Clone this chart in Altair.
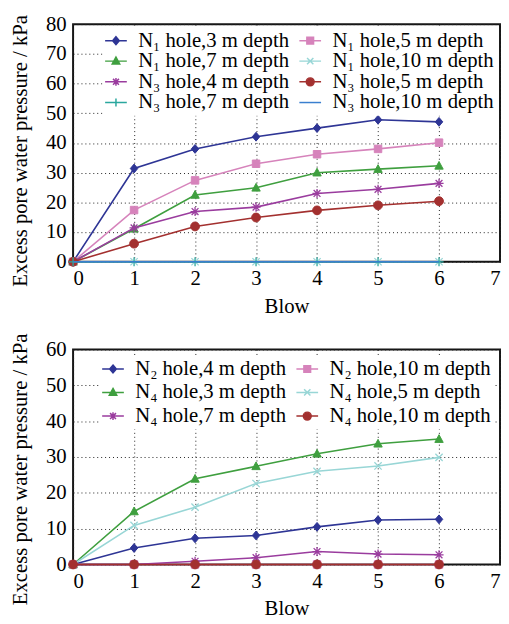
import altair as alt
import pandas as pd

# ---------------- data ----------------
blows = [0, 1, 2, 3, 4, 5, 6]

top_series = [
    "N\u2081 hole,3 m depth", "N\u2081 hole,5 m depth",
    "N\u2081 hole,7 m depth", "N\u2081 hole,10 m depth",
    "N\u2083 hole,4 m depth", "N\u2083 hole,5 m depth",
    "N\u2083 hole,7 m depth", "N\u2083 hole,10 m depth",
]
top_n1_3m = [0, 31.4, 38.0, 42.1, 45.0, 47.8, 47.1]
top_n1_5m = [0, 17.4, 27.4, 33.0, 36.2, 38.0, 40.1]
top_n1_7m = [0, 11.1, 22.5, 24.9, 30.0, 31.2, 32.3]
top_n1_10m = [0, 0, 0, 0, 0, 0, 0]
top_n3_4m = [0, 11.4, 16.9, 18.4, 23.0, 24.4, 26.4]
top_n3_5m = [0, 6.1, 11.9, 14.9, 17.3, 19.0, 20.4]
top_n3_7m = [0, 0, 0, 0, 0, 0, 0]
top_n3_10m = [0, 0, 0, 0, 0, 0, 0]
top_values = [top_n1_3m, top_n1_5m, top_n1_7m, top_n1_10m,
              top_n3_4m, top_n3_5m, top_n3_7m, top_n3_10m]

bot_series = [
    "N\u2082 hole,4 m depth", "N\u2082 hole,10 m depth",
    "N\u2084 hole,3 m depth", "N\u2084 hole,5 m depth",
    "N\u2084 hole,7 m depth", "N\u2084 hole,10 m depth",
]
bot_n2_4m = [0, 4.6, 7.3, 8.1, 10.5, 12.4, 12.6]
bot_n2_10m = [0, 0, 0, 0, 0, 0, 0]
bot_n4_3m = [0, 14.8, 23.9, 27.4, 30.9, 33.7, 35.0]
bot_n4_5m = [0, 10.9, 16.0, 22.6, 26.0, 27.5, 29.9]
bot_n4_7m = [0, 0, 0.9, 1.9, 3.6, 2.9, 2.7]
bot_n4_10m = [0, 0, 0, 0, 0, 0, 0]
bot_values = [bot_n2_4m, bot_n2_10m, bot_n4_3m, bot_n4_5m, bot_n4_7m, bot_n4_10m]

# legend reading order (legend fills column by column, 2 columns)
top_legend_order = [0, 2, 4, 6, 1, 3, 5, 7]
bot_legend_order = [0, 2, 4, 1, 3, 5]

x_ticks = [0, 1, 2, 3, 4, 5, 6, 7]
top_y_ticks = [0, 10, 20, 30, 40, 50, 60, 70, 80]
bot_y_ticks = [0, 10, 20, 30, 40, 50, 60]

# ---------------- styles ----------------
NAVY, PINK, GREEN, CYAN = "#2e3595", "#d683bb", "#3f9f3f", "#98d6d6"
PURPLE, DRED, TEAL, BLUE = "#9a3c9e", "#a3302f", "#2aa79e", "#3a7fcf"

M_DIAMOND = "M0,-1L0.85,0L0,1L-0.85,0Z"
M_SQUARE = "M-0.85,-0.85L0.85,-0.85L0.85,0.85L-0.85,0.85Z"
M_TRI = "M0,-1L0.95,0.75L-0.95,0.75Z"
M_X = "M-0.8,-0.8L0.8,0.8M-0.8,0.8L0.8,-0.8"
M_STAR = "M-1,0L1,0M0,-1L0,1M-0.75,-0.75L0.75,0.75M-0.75,0.75L0.75,-0.75"
M_CIRCLE = "M1,0A1,1 0 1,1 -1,0A1,1 0 1,1 1,0Z"
M_PLUS = "M-1,0L1,0M0,-1L0,1"
LINE = "M-2.75,0L2.75,0"

top_style = [
    (NAVY, M_DIAMOND, True), (PINK, M_SQUARE, True),
    (GREEN, M_TRI, True), (CYAN, M_X, False),
    (PURPLE, M_STAR, False), (DRED, M_CIRCLE, True),
    (TEAL, M_PLUS, False), (BLUE, None, False),
]
bot_style = [
    (NAVY, M_DIAMOND, True), (PINK, M_SQUARE, True),
    (GREEN, M_TRI, True), (CYAN, M_X, False),
    (PURPLE, M_STAR, False), (DRED, M_CIRCLE, True),
]

FONT = "Liberation Serif"
YTITLE = "Excess pore water pressure / kPa"


def make_df(series, values):
    rows = []
    for s, vals in zip(series, values):
        for b, v in zip(blows, vals):
            rows.append({"series": s, "blow": b, "value": v})
    return pd.DataFrame(rows)


def panel(series, values, style, order, y_max, y_ticks, height, row_pad, offset,
          title_y, key):
    df = make_df(series, values)
    xenc = alt.X("blow:Q", scale=alt.Scale(domain=[0, 7], nice=False),
                 axis=alt.Axis(values=x_ticks, title="Blow", format="d",
                               labelOverlap=False))
    yenc = alt.Y("value:Q", scale=alt.Scale(domain=[0, y_max], nice=False),
                 axis=alt.Axis(values=y_ticks, title=YTITLE, titleY=title_y,
                               format="d", labelOverlap=False))
    layers = []
    for s, (col, mk, filled) in zip(series, style):
        sub = alt.Chart(df).transform_filter(alt.datum.series == s)
        layers.append(sub.mark_line(color=col, strokeWidth=1.6).encode(x=xenc, y=yenc))
        if mk is not None:
            if filled:
                pm = sub.mark_point(shape=mk, size=80, filled=True, fill=col,
                                    stroke=col, strokeWidth=1, opacity=1)
            else:
                pm = sub.mark_point(shape=mk, size=85, filled=False,
                                    stroke=col, strokeWidth=1.3, opacity=1)
            layers.append(pm.encode(x=xenc, y=yenc))

    dom = [series[i] for i in order]
    colors = [style[i][0] for i in order]
    leg_paths = [LINE + (style[i][1] if style[i][1] else "") for i in order]
    leg = alt.Legend(title=None, orient="top-right", columns=2,
                     columnPadding=6, rowPadding=row_pad, symbolSize=64,
                     symbolStrokeWidth=1.5, symbolOpacity=1,
                     labelFont=FONT, labelFontSize=21, labelColor="black",
                     labelOffset=12, labelLimit=400, fillColor="white",
                     padding=3, offset=offset)
    field = f"{key}:N"
    df_leg = df.rename(columns={"series": key})
    legend_layer = alt.Chart(df_leg).transform_filter("datum.blow < 0").mark_point(
        filled=True, opacity=1, strokeWidth=1.5).encode(
        x=xenc, y=yenc,
        color=alt.Color(field, scale=alt.Scale(domain=dom, range=colors), legend=leg),
        stroke=alt.Stroke(field, scale=alt.Scale(domain=dom, range=colors), legend=leg),
        shape=alt.Shape(field, scale=alt.Scale(domain=dom, range=leg_paths), legend=leg),
    )
    layers.append(legend_layer)
    return alt.layer(*layers).properties(width=433, height=height)


top = panel(top_series, top_values, top_style, top_legend_order, 80, top_y_ticks,
            241, -1, 3, 128, "top_series")
bottom = panel(bot_series, bot_values, bot_style, bot_legend_order, 60, bot_y_ticks,
               218, 2, 6, 121, "bottom_series")

chart = alt.vconcat(top, bottom, spacing=89, bounds="flush",
                    padding={"left": 0, "top": 0, "right": 0, "bottom": 0}).resolve_scale(
    color="independent", stroke="independent", shape="independent"
).resolve_legend(
    color="independent", stroke="independent", shape="independent"
).configure_view(
    stroke="#151515", strokeWidth=2
).configure_axis(
    grid=True, gridColor="#222222", gridDash=[1, 3], gridWidth=1, gridOpacity=1,
    ticks=False, domain=False,
    labelFont=FONT, labelFontSize=21, labelColor="black",
    titleFont=FONT, titleFontWeight="normal", titleColor="black",
).configure_axisX(labelPadding=6, titlePadding=7, titleFontSize=21).configure_axisY(
    labelPadding=7, titlePadding=15, titleFontSize=21
)

chart.save("out.html", embed_options={"renderer": "svg", "actions": False})
